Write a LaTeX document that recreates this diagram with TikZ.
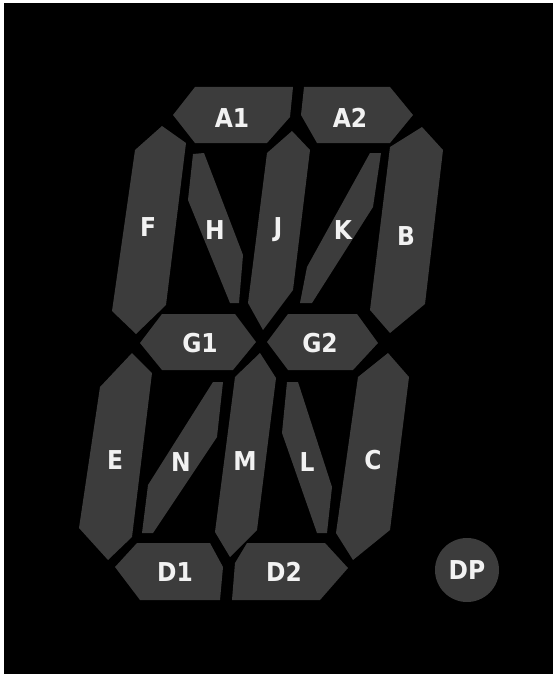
\documentclass[tikz,border=0pt]{standalone}
\usepackage{fontspec}
\setmainfont{DejaVu Sans Condensed}
\usepackage{xcolor}
\definecolor{segdark}{HTML}{000000}
\definecolor{seggray}{HTML}{3C3C3C}
\definecolor{seglight}{HTML}{F2F2F2}

\begin{document}
\begin{tikzpicture}[
  x=1pt, y=-1pt,
  seg/.style={fill=seggray},
  lbl/.style={text=seglight, font=\fontsize{26}{26}\selectfont\bfseries, inner sep=0pt},
]
\fill[white] (0,0) rectangle (553,674);
\fill[segdark] (4,3) rectangle (553,674);

\fill[seg] (195,87) -- (293,87) -- (290,117) -- (267,143) -- (195,143) -- (173,115) -- cycle;
\fill[seg] (304,87) -- (390,87) -- (413,115) -- (390,143) -- (317,143) -- (301,115) -- cycle;
\fill[seg] (135,150) -- (162,126) -- (186,143) -- (166,305) -- (136,334) -- (112,311) -- cycle;
\fill[seg] (193,154) -- (204,153) -- (243,255) -- (239,303) -- (230,303) -- (188,200) -- cycle;
\fill[seg] (267,153) -- (292,131) -- (310,150) -- (293,290) -- (263,330) -- (248,303) -- cycle;
\fill[seg] (370,153) -- (381,153) -- (373,207) -- (312,303) -- (300,303) -- (307,267) -- cycle;
\fill[seg] (390,147) -- (422,127) -- (443,150) -- (425,304) -- (390,333) -- (370,310) -- cycle;
\fill[seg] (162,314) -- (235,314) -- (256,342) -- (233,370) -- (162,370) -- (140,343) -- cycle;
\fill[seg] (288,314) -- (357,314) -- (378,343) -- (353,370) -- (288,370) -- (267,342) -- cycle;
\fill[seg] (100,387) -- (132,353) -- (152,373) -- (132,537) -- (108,560) -- (79,528) -- cycle;
\fill[seg] (213,382) -- (223,382) -- (217,437) -- (153,533) -- (142,533) -- (148,485) -- cycle;
\fill[seg] (235,377) -- (260,353) -- (276,378) -- (257,530) -- (230,557) -- (215,532) -- cycle;
\fill[seg] (287,382) -- (298,382) -- (332,487) -- (327,533) -- (317,533) -- (282,433) -- cycle;
\fill[seg] (358,377) -- (388,353) -- (409,377) -- (390,530) -- (353,560) -- (336,533) -- cycle;
\fill[seg] (137,543) -- (210,543) -- (223,567) -- (220,600) -- (140,600) -- (115,567) -- cycle;
\fill[seg] (247,543) -- (325,543) -- (348,568) -- (320,600) -- (232,600) -- (235,563) -- cycle;
\fill[seg] (467,570) circle[radius=32];

\node[lbl] (a1) at (232,118) {A1};
\node[lbl] (a2) at (350,118) {A2};
\node[lbl] (f) at (148,227) {F};
\node[lbl] (h) at (215,230) {H};
\node[lbl] (j) at (278,230) {J};
\node[lbl] (k) at (343,230) {K};
\node[lbl] (b) at (406,236) {B};
\node[lbl] (g1) at (200,343) {G1};
\node[lbl] (g2) at (320,343) {G2};
\node[lbl] (e) at (115,460) {E};
\node[lbl] (n) at (181,462) {N};
\node[lbl] (m) at (245,461) {M};
\node[lbl] (l) at (307,462) {L};
\node[lbl] (c) at (373,460) {C};
\node[lbl] (d1) at (175,572) {D1};
\node[lbl] (d2) at (284,572) {D2};
\node[lbl] (dp) at (467,570) {DP};
\end{tikzpicture}
\end{document}
